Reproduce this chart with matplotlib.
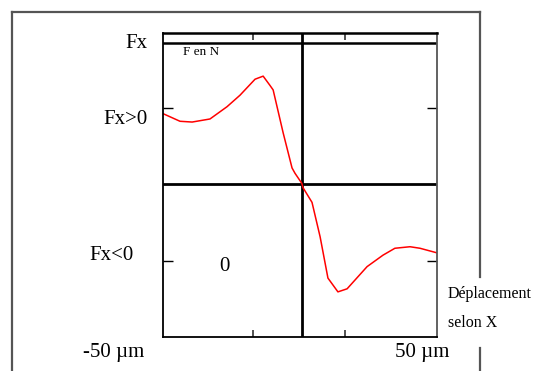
import matplotlib
matplotlib.use("Agg")
import matplotlib.pyplot as plt
from matplotlib.lines import Line2D

plt.rcParams["font.family"] = ["Liberation Serif", "DejaVu Serif"]

# displacement along X (um) and force Fx (N)
depl_um = [-51.5, -45.2, -40.7, -34.1, -27.8, -23.0, -17.4, -14.4, -11.9, -10.7,
           -7.0, -3.7, -2.6, -0.1, 0.4, 3.7, 6.7, 9.6, 13.3, 16.7,
           24.1, 30.0, 34.4, 40.0, 43.7, 50.0]
force_n = [0.92, 0.82, 0.81, 0.85, 1.01, 1.16, 1.37, 1.41, 1.29, 1.23,
           0.67, 0.21, 0.14, 0.01, -0.05, -0.24, -0.69, -1.23, -1.41, -1.37,
           -1.08, -0.93, -0.84, -0.82, -0.84, -0.90]

x_ticks = [-18.1, 15.9]
y_ticks = [-1.0, 1.0]

W, H = 539, 371
fig = plt.figure(figsize=(W / 100, H / 100), dpi=100)


def fx(px):
    return px / W


def fy(py):
    return 1 - py / H


# outer frame (grey)
frame = dict(color="#555555", lw=1.6, transform=fig.transFigure)
fig.add_artist(Line2D([fx(12), fx(12)], [fy(12), 0], **frame))
fig.add_artist(Line2D([fx(12), fx(480)], [fy(12), fy(12)], **frame))
fig.add_artist(Line2D([fx(480), fx(480)], [fy(12), fy(277)], **frame))
fig.add_artist(Line2D([fx(480), fx(480)], [fy(348), 0], **frame))

ax = fig.add_axes([fx(163), fy(337), fx(437) - fx(163), fy(33) - fy(337)])
ax.set_xlim(-51.5, 50)
ax.set_ylim(-2.0, 1.974)

for side in ["left", "bottom", "top"]:
    ax.spines[side].set_color("black")
    ax.spines[side].set_linewidth(1.3)
ax.spines["top"].set_linewidth(1.8)
ax.spines["right"].set_color("#555555")
ax.spines["right"].set_linewidth(1.3)

ax.axhline(1.843, color="black", lw=1.8)
ax.axhline(0, color="black", lw=2.0)
ax.axvline(0, color="black", lw=2.0)

ax.plot(depl_um, force_n, color="red", lw=1.1)

ax.set_xticks(x_ticks)
ax.set_yticks(y_ticks)
ax.tick_params(axis="x", direction="in", length=5, width=1.3, color="#444444",
               top=True, bottom=True, labelbottom=False)
ax.tick_params(axis="y", direction="in", length=7, width=1.0,
               left=True, right=True, labelleft=False)

txt = dict(transform=fig.transFigure, fontsize=15, va="baseline")
fig.text(fx(148), fy(48), "Fx", ha="right", **txt)
fig.text(fx(148), fy(124), "Fx>0", ha="right", **txt)
fig.text(fx(134), fy(260), "Fx<0", ha="right", **txt)
fig.text(fx(224), fy(271), "0", ha="center", **txt)
fig.text(fx(83), fy(357), "-50 µm", ha="left", **txt)
fig.text(fx(395), fy(357), "50 µm", ha="left", **txt)

fig.text(fx(183), fy(55), "F en N", ha="left", va="baseline", fontsize=9.5,
         transform=fig.transFigure)
fig.text(fx(448), fy(298), "Déplacement", ha="left", va="baseline", fontsize=11.5,
         transform=fig.transFigure)
fig.text(fx(448), fy(327), "selon X", ha="left", va="baseline", fontsize=11.5,
         transform=fig.transFigure)

fig.savefig("out.png", dpi=100)
